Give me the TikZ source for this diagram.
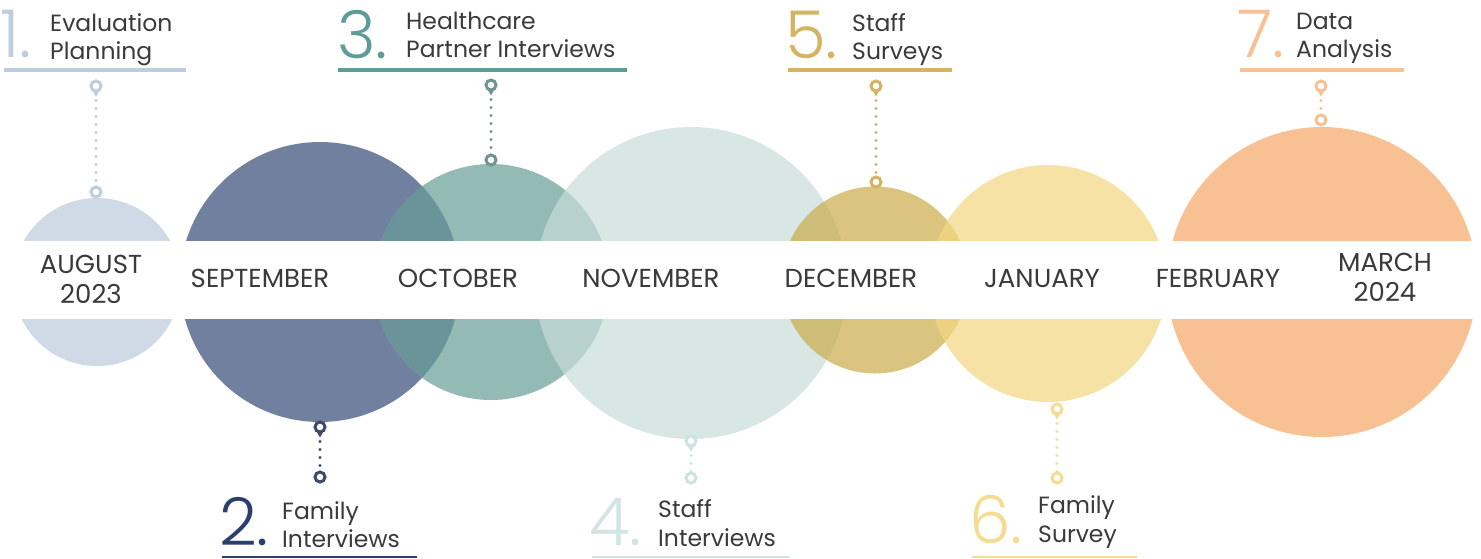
\documentclass[tikz,border=0pt]{standalone}
\usepackage{fontspec}
\setmainfont{Poppins}
\newfontfamily\popfont{Poppins}
\newfontfamily\numfont{Poppins Light}

% palette
\definecolor{ink}{HTML}{3A3A3A}
\definecolor{cA}{HTML}{BACADB}\definecolor{nA}{HTML}{BFCCDD}
\definecolor{cB}{HTML}{364A77}\definecolor{nB}{HTML}{2B3F6E}\definecolor{pB}{HTML}{3E4A6A}
\definecolor{cC}{HTML}{669C97}\definecolor{nC}{HTML}{5E9C96}\definecolor{pC}{HTML}{6E9590}
\definecolor{cD}{HTML}{C7DDD8}\definecolor{nD}{HTML}{D3E5E1}\definecolor{pD}{HTML}{CFE3DE}
\definecolor{cE}{HTML}{CAAB48}\definecolor{nE}{HTML}{D4B463}
\definecolor{cF}{HTML}{F4D680}\definecolor{nF}{HTML}{F6DC90}
\definecolor{cG}{HTML}{F4A666}\definecolor{nG}{HTML}{F7C194}

\tikzset{
  bubble/.style={circle, inner sep=0pt, draw=none, fill opacity=0.7},
  month/.style={font=\popfont\fontsize{26}{30}\selectfont, text=ink, inner sep=0pt, anchor=base},
  stepnum/.style={font=\numfont\fontsize{66}{66}\selectfont, inner sep=0pt, anchor=base west},
  steptxt/.style={font=\popfont\fontsize{23.5}{28}\selectfont, text=ink, inner sep=0pt, anchor=base west},
  ring/.style={circle, minimum size=10pt, inner sep=0pt, line width=3pt, fill=white, draw},
  dotline/.style={line width=3.4pt, line cap=round, dash pattern=on 0pt off 8pt},
  rule/.style={line width=4pt},
}

% small downward point under a map-pin ring
\newcommand\pintip[2]{%
  \fill[#2] ([shift={(-3.6,4.2)}]#1.center) -- ([shift={(0,10.5)}]#1.center)
            -- ([shift={(3.6,4.2)}]#1.center) -- cycle;}

\begin{document}
\begin{tikzpicture}[x=1pt,y=-1pt]
\useasboundingbox (0,0) rectangle (1481,558);

% month bubbles, left to right
\node[bubble, fill=cA, minimum size=168pt] (aug) at (97,282) {};
\node[bubble, fill=cB, minimum size=280pt] (sep) at (320,282) {};
\node[bubble, fill=cC, minimum size=236pt] (oct) at (491,282) {};
\node[bubble, fill=cD, minimum size=312pt] (nov) at (691,283) {};
\node[bubble, fill=cE, minimum size=187pt] (dec) at (875,280) {};
\node[bubble, fill=cF, minimum size=237pt] (jan) at (1048,283.5) {};
\node[bubble, fill=cG, minimum size=310pt] (mar) at (1322,282) {};

% white band carrying the month names
\fill[white] (0,241) rectangle (1481,319);

\node[month] (m1a) at (91,273) {AUGUST};
\node[month] (m1b) at (91,303) {2023};
\node[month] (m2) at (260,287) {SEPTEMBER};
\node[month] (m3) at (458,287) {OCTOBER};
\node[month] (m4) at (651,287) {NOVEMBER};
\node[month] (m5) at (851,287) {DECEMBER};
\node[month] (m6) at (1042,287) {JANUARY};
\node[month] (m7) at (1218,287) {FEBRUARY};
\node[month] (m8a) at (1385,271) {MARCH};
\node[month] (m8b) at (1385,301) {2024};

% step 1
\node[stepnum, text=nA] (n1) at (0,57) {1.};
\node[steptxt] (t1a) at (50,31) {Evaluation};
\node[steptxt] (t1b) at (50,59) {Planning};
\draw[rule, nA] (4,70) -- (186,70);
\node[ring, draw=nA] (p1a) at (96,86) {};
\node[ring, draw=nA] (p1b) at (96,192) {};
\pintip{p1a}{nA}
\draw[dotline, nA] (p1a) -- (p1b);

% step 3
\node[stepnum, text=nC] (n3) at (337,58) {3.};
\node[steptxt] (t3a) at (406,29) {Healthcare};
\node[steptxt] (t3b) at (406,57) {Partner Interviews};
\draw[rule, nC] (338,70) -- (627,70);
\node[ring, draw=pC] (p3a) at (491,85) {};
\node[ring, draw=pC] (p3b) at (491,160) {};
\pintip{p3a}{pC}
\draw[dotline, pC] (p3a) -- (p3b);

% step 5
\node[stepnum, text=nE] (n5) at (785,58) {5.};
\node[steptxt] (t5a) at (852,31) {Staff};
\node[steptxt] (t5b) at (852,59) {Surveys};
\draw[rule, nE] (788,70) -- (952,70);
\node[ring, draw=nE] (p5a) at (876,86) {};
\node[ring, draw=nE] (p5b) at (876,182) {};
\pintip{p5a}{nE}
\draw[dotline, nE] (p5a) -- (p5b);

% step 7
\node[stepnum, text=nG] (n7) at (1237,57) {7.};
\node[steptxt] (t7a) at (1296,29) {Data};
\node[steptxt] (t7b) at (1296,57) {Analysis};
\draw[rule, nG] (1240,70) -- (1404,70);
\node[ring, draw=nG] (p7a) at (1321,86) {};
\node[ring, draw=nG] (p7b) at (1321,120) {};
\pintip{p7a}{nG}
\draw[dotline, nG] (p7a) -- (p7b);

% step 2
\node[ring, draw=pB] (p2a) at (320,427) {};
\node[ring, draw=pB] (p2b) at (320,477) {};
\pintip{p2a}{pB}
\draw[dotline, pB] (p2a) -- (p2b);
\node[stepnum, text=nB] (n2) at (219,545) {2.};
\node[steptxt] (t2a) at (282,519) {Family};
\node[steptxt] (t2b) at (282,547) {Interviews};
\draw[line width=2pt, nB] (222,557) -- (417,557);

% step 4
\node[ring, draw=pD] (p4a) at (691,441) {};
\node[ring, draw=pD] (p4b) at (691,478) {};
\pintip{p4a}{pD}
\draw[dotline, pD] (p4a) -- (p4b);
\node[stepnum, text=nD] (n4) at (589,545) {4.};
\node[steptxt] (t4a) at (658,517) {Staff};
\node[steptxt] (t4b) at (658,546) {Interviews};
\draw[line width=2pt, nD] (592,557) -- (790,557);

% step 6
\node[ring, draw=nF] (p6a) at (1057,409) {};
\node[ring, draw=nF] (p6b) at (1057,478) {};
\pintip{p6a}{nF}
\draw[dotline, nF] (p6a) -- (p6b);
\node[stepnum, text=nF] (n6) at (969,543) {6.};
\node[steptxt] (t6a) at (1038,513) {Family};
\node[steptxt] (t6b) at (1038,542) {Survey};
\draw[line width=2pt, nF] (972,557) -- (1137,557);

\end{tikzpicture}
\end{document}
